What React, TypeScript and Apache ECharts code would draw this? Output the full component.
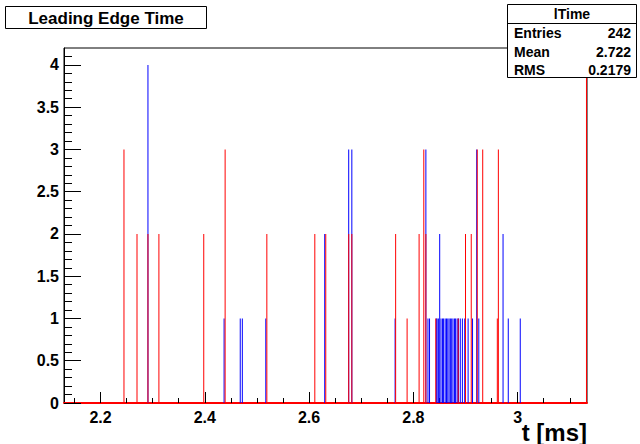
import React, { useEffect, useRef } from 'react';
import * as echarts from 'echarts';

const FONT = '"Liberation Sans", Arial, Helvetica, sans-serif';

const chartTitle = 'Leading Edge Time';
const xTitle = 't [ms]';
const statsName = 'lTime';
const statsLabels = ['Entries', 'Mean', 'RMS'];
const statsValues = ['242', '2.722', '0.2179'];

const xMin = 2.13;
const xMax = 3.133;
const yMin = 0;
const yMax = 4.2;

const xMajor = [2.2, 2.4, 2.6, 2.8, 3.0];
const xMinor = [2.15, 2.25, 2.3, 2.35, 2.45, 2.5, 2.55, 2.65, 2.7, 2.75, 2.85, 2.9, 2.95, 3.05, 3.1];
const yMajor = [0, 0.5, 1, 1.5, 2, 2.5, 3, 3.5, 4];
const yMinor = [0.1, 0.2, 0.3, 0.4, 0.6, 0.7, 0.8, 0.9, 1.1, 1.2, 1.3, 1.4, 1.6, 1.7, 1.8, 1.9,
  2.1, 2.2, 2.3, 2.4, 2.6, 2.7, 2.8, 2.9, 3.1, 3.2, 3.3, 3.4, 3.6, 3.7, 3.8, 3.9, 4.1];

// blue histogram: bin positions (ms) and counts
const blueT = [2.291, 2.437, 2.468, 2.472, 2.517, 2.630, 2.676, 2.682, 2.765, 2.824, 2.828, 2.831,
  2.844, 2.8455, 2.848, 2.8505, 2.853, 2.856, 2.858, 2.861, 2.8635, 2.866, 2.8685, 2.871, 2.8735,
  2.876, 2.879, 2.881, 2.884, 2.8865, 2.890, 2.894, 2.8985,
  2.905, 2.9135, 2.9215, 2.9255, 2.972, 2.982, 3.005];
const blueN = [4, 1, 1, 1, 1, 2, 3, 3, 1, 3, 1, 1,
  1, 1, 1, 2, 1, 1, 1, 1, 1, 1, 1, 1, 1,
  1, 1, 1, 1, 1, 1, 1, 1,
  1, 1, 3, 1, 2, 1, 1];

// red histogram: bin positions (ms) and counts (last bin is off-scale)
const redT = [2.245, 2.270, 2.291, 2.312, 2.398, 2.439, 2.519, 2.611, 2.632, 2.676, 2.682, 2.766,
  2.788, 2.811, 2.820, 2.824, 2.843, 2.886, 2.900, 2.911, 2.9225, 2.933, 2.961, 2.963, 3.132];
const redN = [3, 2, 2, 2, 2, 3, 2, 2, 2, 2, 2, 2,
  1, 2, 3, 2, 1, 1, 2, 2, 3, 3, 1, 3, 12];

const pairs = (t: number[], n: number[]) => t.map((v, i) => [v, n[i]]);

export default function App() {
  const ref = useRef<HTMLDivElement>(null);
  useEffect(() => {
    if (!ref.current) return;
    const chart = echarts.init(ref.current, null, { renderer: 'svg' });
    const labelStyle = { fontFamily: FONT, fontWeight: 'bold' as const, fontSize: 16, color: '#000' };
    const option: any = {
      animation: false,
      backgroundColor: '#fff',
      grid: { left: 64, right: 53, top: 48, bottom: 41, show: true, borderColor: '#000', borderWidth: 1, backgroundColor: 'transparent' },
      xAxis: [
        {
          type: 'value', min: xMin, max: xMax, position: 'bottom',
          axisLine: { show: true, onZero: false, lineStyle: { color: '#ff0000', width: 2 } },
          axisTick: { show: true, inside: true, length: 11, customValues: xMajor, lineStyle: { color: '#000', width: 1 } },
          axisLabel: { ...labelStyle, margin: 6, customValues: xMajor, formatter: (v: number) => String(Math.round(v * 10) / 10) },
          splitLine: { show: false },
        },
        {
          type: 'value', min: xMin, max: xMax, position: 'bottom', offset: 0,
          axisLine: { show: false },
          axisTick: { show: true, inside: true, length: 5, customValues: xMinor, lineStyle: { color: '#000', width: 1 } },
          axisLabel: { show: false },
          splitLine: { show: false },
        },
      ],
      yAxis: [
        {
          type: 'value', min: yMin, max: yMax, position: 'left',
          axisLine: { show: true, lineStyle: { color: '#000', width: 1 } },
          axisTick: { show: true, inside: true, length: 17, customValues: yMajor, lineStyle: { color: '#000', width: 1 } },
          axisLabel: { ...labelStyle, margin: 5, customValues: yMajor },
          splitLine: { show: false },
        },
        {
          type: 'value', min: yMin, max: yMax, position: 'left', offset: 0,
          axisLine: { show: false },
          axisTick: { show: true, inside: true, length: 8, customValues: yMinor, lineStyle: { color: '#000', width: 1 } },
          axisLabel: { show: false },
          splitLine: { show: false },
        },
      ],
      series: [
        {
          type: 'bar', name: 'blue', xAxisIndex: 0, yAxisIndex: 0,
          data: pairs(blueT, blueN), barWidth: 1, barGap: '-100%', clip: true, silent: true,
          itemStyle: { color: '#0000ff' },
        },
        {
          type: 'bar', name: 'red', xAxisIndex: 0, yAxisIndex: 0,
          data: pairs(redT, redN), barWidth: 1, barGap: '-100%', clip: true, silent: true,
          itemStyle: { color: '#ff0000' },
        },
      ],
      graphic: [
        {
          type: 'rect', z: 100,
          shape: { x: 5.5, y: 6.5, width: 201, height: 22 },
          style: { fill: '#fff', stroke: '#000', lineWidth: 1 },
        },
        {
          type: 'text', z: 101, x: 106, y: 18,
          style: { text: chartTitle, font: `bold 17px ${FONT}`, fill: '#000', align: 'center', verticalAlign: 'middle' },
        },
        {
          type: 'rect', z: 100,
          shape: { x: 507.5, y: 4.5, width: 129, height: 73 },
          style: { fill: '#fff', stroke: '#000', lineWidth: 1 },
        },
        {
          type: 'line', z: 101,
          shape: { x1: 507.5, y1: 23.5, x2: 636.5, y2: 23.5 },
          style: { stroke: '#000', lineWidth: 1 },
        },
        {
          type: 'text', z: 101, x: 572, y: 14,
          style: { text: statsName, font: `bold 14px ${FONT}`, fill: '#000', align: 'center', verticalAlign: 'middle' },
        },
        ...statsLabels.map((s, i) => ({
          type: 'text', z: 101, x: 514, y: 33 + i * 18.5,
          style: { text: s, font: `bold 14px ${FONT}`, fill: '#000', align: 'left', verticalAlign: 'middle' },
        })),
        ...statsValues.map((s, i) => ({
          type: 'text', z: 101, x: 631, y: 33 + i * 18.5,
          style: { text: s, font: `bold 14px ${FONT}`, fill: '#000', align: 'right', verticalAlign: 'middle' },
        })),
        {
          type: 'text', z: 101, x: 587, y: 432,
          style: { text: xTitle, font: `bold 24px ${FONT}`, fill: '#000', align: 'right', verticalAlign: 'middle' },
        },
      ],
    };
    chart.setOption(option);
    return () => chart.dispose();
  }, []);
  return <div ref={ref} style={{ width: 640, height: 444, position: 'absolute', left: 0, top: 0 }} />;
}
